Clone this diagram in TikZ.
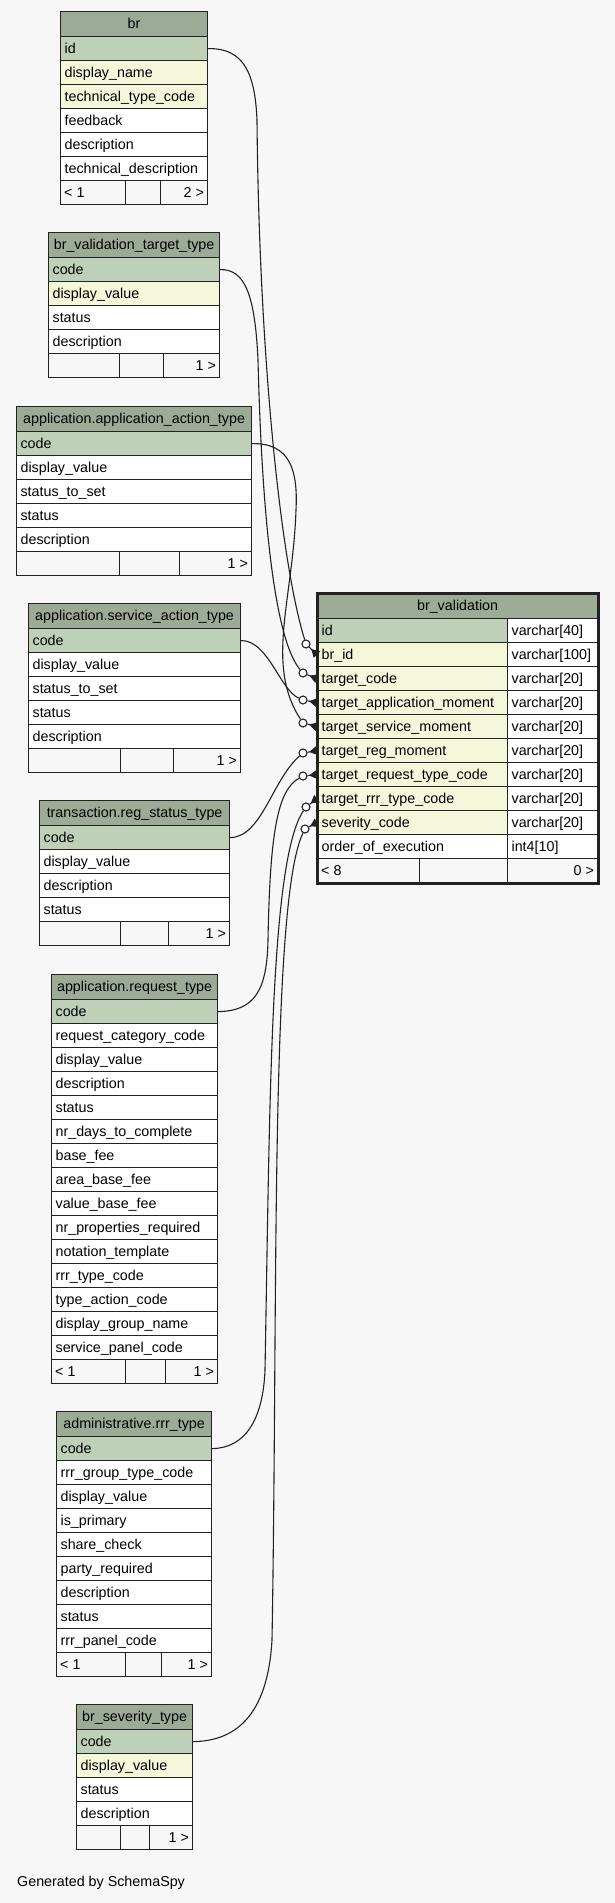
\documentclass[tikz,border=0pt]{standalone}
\usepackage{fontspec}
\setmainfont{Liberation Sans}
\usetikzlibrary{arrows.meta}

\definecolor{bgc}{HTML}{F7F7F7}
\definecolor{hdc}{HTML}{9BAB96}
\definecolor{pkc}{HTML}{BED1B8}
\definecolor{ixc}{HTML}{F4F7DA}
\definecolor{inkc}{HTML}{222222}

\tikzset{
     cell/.style={draw=inkc, line width=1.2pt, anchor=north west, inner xsep=4pt, inner ysep=0pt, text height=11pt, text depth=2pt},
     tblhead/.style={cell, fill=hdc, minimum height=25pt},
     row/.style={cell, minimum height=24pt, align=left},
     footcell/.style={cell, minimum height=24pt},
     fk/.style={draw=inkc, line width=1.1pt},
     ring/.style={circle, draw=inkc, fill=white, line width=1.1pt, inner sep=0pt, minimum size=8pt},
     crow/.style={fk, -{Triangle[reversed, length=8pt, width=9pt]}}
}

\newcommand{\dbfoot}[8]{%
     \node[footcell, minimum width={#3-#2}] (#1-fa) at (#2,#6) {};
     \node[footcell, minimum width={#4-#3}] (#1-fb) at (#3,#6) {};
     \node[footcell, minimum width={#5-#4}] (#1-fc) at (#4,#6) {};
     \node[anchor=west, inner xsep=4pt] (#1-fl) at (#1-fa.west) {#7};
     \node[anchor=east, inner xsep=4pt] (#1-fr) at (#1-fc.east) {#8};
}

\begin{document}
\begin{tikzpicture}[x=1pt, y=-1pt, font=\fontsize{14.3}{17}\selectfont]
     \useasboundingbox (0,0) rectangle (615,1903);
     \fill[bgc] (0,0) rectangle (615,1903);

     % br
     \node[tblhead, minimum width=147pt] (br) at (60,11) {br};
     \foreach \col/\fc [count=\i] in {id/pkc, display\_name/ixc, technical\_type\_code/ixc, feedback/white, description/white, technical\_description/white}
          \node[row, fill=\fc, text width=139pt] (br-\i) at (60,{36+24*(\i-1)}) {\col};
     \dbfoot{br}{60}{125}{160}{207}{180}{< 1}{2 >}

     % br_validation_target_type
     \node[tblhead, minimum width=171pt] (bvt) at (48,232) {br\_validation\_target\_type};
     \foreach \col/\fc [count=\i] in {code/pkc, display\_value/ixc, status/white, description/white}
          \node[row, fill=\fc, text width=163pt] (bvt-\i) at (48,{257+24*(\i-1)}) {\col};
     \dbfoot{bvt}{48}{119}{163}{219}{353}{}{1 >}

     % application.application_action_type
     \node[tblhead, minimum width=235pt] (aat) at (16,406) {application.application\_action\_type};
     \foreach \col/\fc [count=\i] in {code/pkc, display\_value/white, status\_to\_set/white, status/white, description/white}
          \node[row, fill=\fc, text width=227pt] (aat-\i) at (16,{431+24*(\i-1)}) {\col};
     \dbfoot{aat}{16}{119}{179}{251}{551}{}{1 >}

     % application.service_action_type
     \node[tblhead, minimum width=212pt] (sat) at (28,603) {application.service\_action\_type};
     \foreach \col/\fc [count=\i] in {code/pkc, display\_value/white, status\_to\_set/white, status/white, description/white}
          \node[row, fill=\fc, text width=204pt] (sat-\i) at (28,{628+24*(\i-1)}) {\col};
     \dbfoot{sat}{28}{120}{173}{240}{748}{}{1 >}

     % transaction.reg_status_type
     \node[tblhead, minimum width=190pt] (rst) at (39,800) {transaction.reg\_status\_type};
     \foreach \col/\fc [count=\i] in {code/pkc, display\_value/white, description/white, status/white}
          \node[row, fill=\fc, text width=182pt] (rst-\i) at (39,{825+24*(\i-1)}) {\col};
     \dbfoot{rst}{39}{120}{168}{229}{921}{}{1 >}

     % application.request_type
     \node[tblhead, minimum width=166pt] (rqt) at (51,974) {application.request\_type};
     \foreach \col/\fc [count=\i] in {code/pkc, request\_category\_code/white, display\_value/white, description/white, status/white, nr\_days\_to\_complete/white, base\_fee/white, area\_base\_fee/white, value\_base\_fee/white, nr\_properties\_required/white, notation\_template/white, rrr\_type\_code/white, type\_action\_code/white, display\_group\_name/white, service\_panel\_code/white}
          \node[row, fill=\fc, text width=158pt] (rqt-\i) at (51,{999+24*(\i-1)}) {\col};
     \dbfoot{rqt}{51}{125}{165}{217}{1359}{< 1}{1 >}

     % administrative.rrr_type
     \node[tblhead, minimum width=155pt] (rrt) at (56,1411) {administrative.rrr\_type};
     \foreach \col/\fc [count=\i] in {code/pkc, rrr\_group\_type\_code/white, display\_value/white, is\_primary/white, share\_check/white, party\_required/white, description/white, status/white, rrr\_panel\_code/white}
          \node[row, fill=\fc, text width=147pt] (rrt-\i) at (56,{1436+24*(\i-1)}) {\col};
     \dbfoot{rrt}{56}{125}{161}{211}{1652}{< 1}{1 >}

     % br_severity_type
     \node[tblhead, minimum width=116pt] (bst) at (76,1704) {br\_severity\_type};
     \foreach \col/\fc [count=\i] in {code/pkc, display\_value/ixc, status/white, description/white}
          \node[row, fill=\fc, text width=108pt] (bst-\i) at (76,{1729+24*(\i-1)}) {\col};
     \dbfoot{bst}{76}{120}{149}{192}{1825}{}{1 >}

     % br_validation
     \node[tblhead, minimum width=280pt] (brv) at (317,593) {br\_validation};
     \foreach \col/\typ/\fc [count=\i] in {id/varchar[40]/pkc, br\_id/varchar[100]/ixc, target\_code/varchar[20]/ixc, target\_application\_moment/varchar[20]/ixc, target\_service\_moment/varchar[20]/ixc, target\_reg\_moment/varchar[20]/ixc, target\_request\_type\_code/varchar[20]/ixc, target\_rrr\_type\_code/varchar[20]/ixc, severity\_code/varchar[20]/ixc, order\_of\_execution/int4[10]/white}
     {
          \node[row, fill=\fc, text width=182pt] (brv-\i) at (317,{618+24*(\i-1)}) {\col};
          \node[row, fill=white, text width=82pt] (brvt-\i) at (507,{618+24*(\i-1)}) {\typ};
     }
     \dbfoot{brv}{317}{419}{507}{597}{858}{< 8}{0 >}
     \draw[draw=inkc, line width=3pt] (brv.north west) rectangle (brv-fc.south east);

     % relations
     \node[ring] (r1) at (306,644) {};
     \node[ring] (r2) at (303,673) {};
     \node[ring] (r3) at (303,700) {};
     \node[ring] (r4) at (303,723) {};
     \node[ring] (r5) at (303,753) {};
     \node[ring] (r6) at (303,776) {};
     \node[ring] (r7) at (306,807) {};
     \node[ring] (r8) at (305,829) {};

     \draw[fk] (br-1.east) .. controls (245,48) and (255,75) .. (257,120) .. controls (259,350) and (280,560) .. (r1);
     \draw[fk] (bvt-1.east) .. controls (245,269) and (255,295) .. (258,360) .. controls (262,520) and (275,640) .. (r2);
     \draw[fk] (sat-1.east) .. controls (268,640) and (280,690) .. (r3);
     \draw[fk] (aat-1.east) .. controls (290,443) and (298,470) .. (296,510) .. controls (293,600) and (265,665) .. (r4);
     \draw[fk] (rst-1.east) .. controls (262,837) and (272,780) .. (r5);
     \draw[fk] (rqt-1.east) .. controls (255,1011) and (267,990) .. (268,940) .. controls (270,830) and (278,790) .. (r6);
     \draw[fk] (rrt-1.east) .. controls (245,1448) and (263,1420) .. (265,1370) .. controls (270,1100) and (270,860) .. (r7);
     \draw[fk] (bst-1.east) .. controls (240,1741) and (268,1710) .. (272,1640) .. controls (278,1300) and (270,900) .. (r8);

     \draw[crow] (r1) -- (brv-2.west);
     \draw[crow] (r2) -- (brv-3.west);
     \draw[crow] (r3) -- (brv-4.west);
     \draw[crow] (r4) -- (brv-5.west);
     \draw[crow] (r5) -- (brv-6.west);
     \draw[crow] (r6) -- (brv-7.west);
     \draw[crow] (r7) -- (brv-8.west);
     \draw[crow] (r8) -- (brv-9.west);

     \node[anchor=west, inner sep=0pt] (gen) at (17,1883) {Generated by SchemaSpy};
\end{tikzpicture}
\end{document}
